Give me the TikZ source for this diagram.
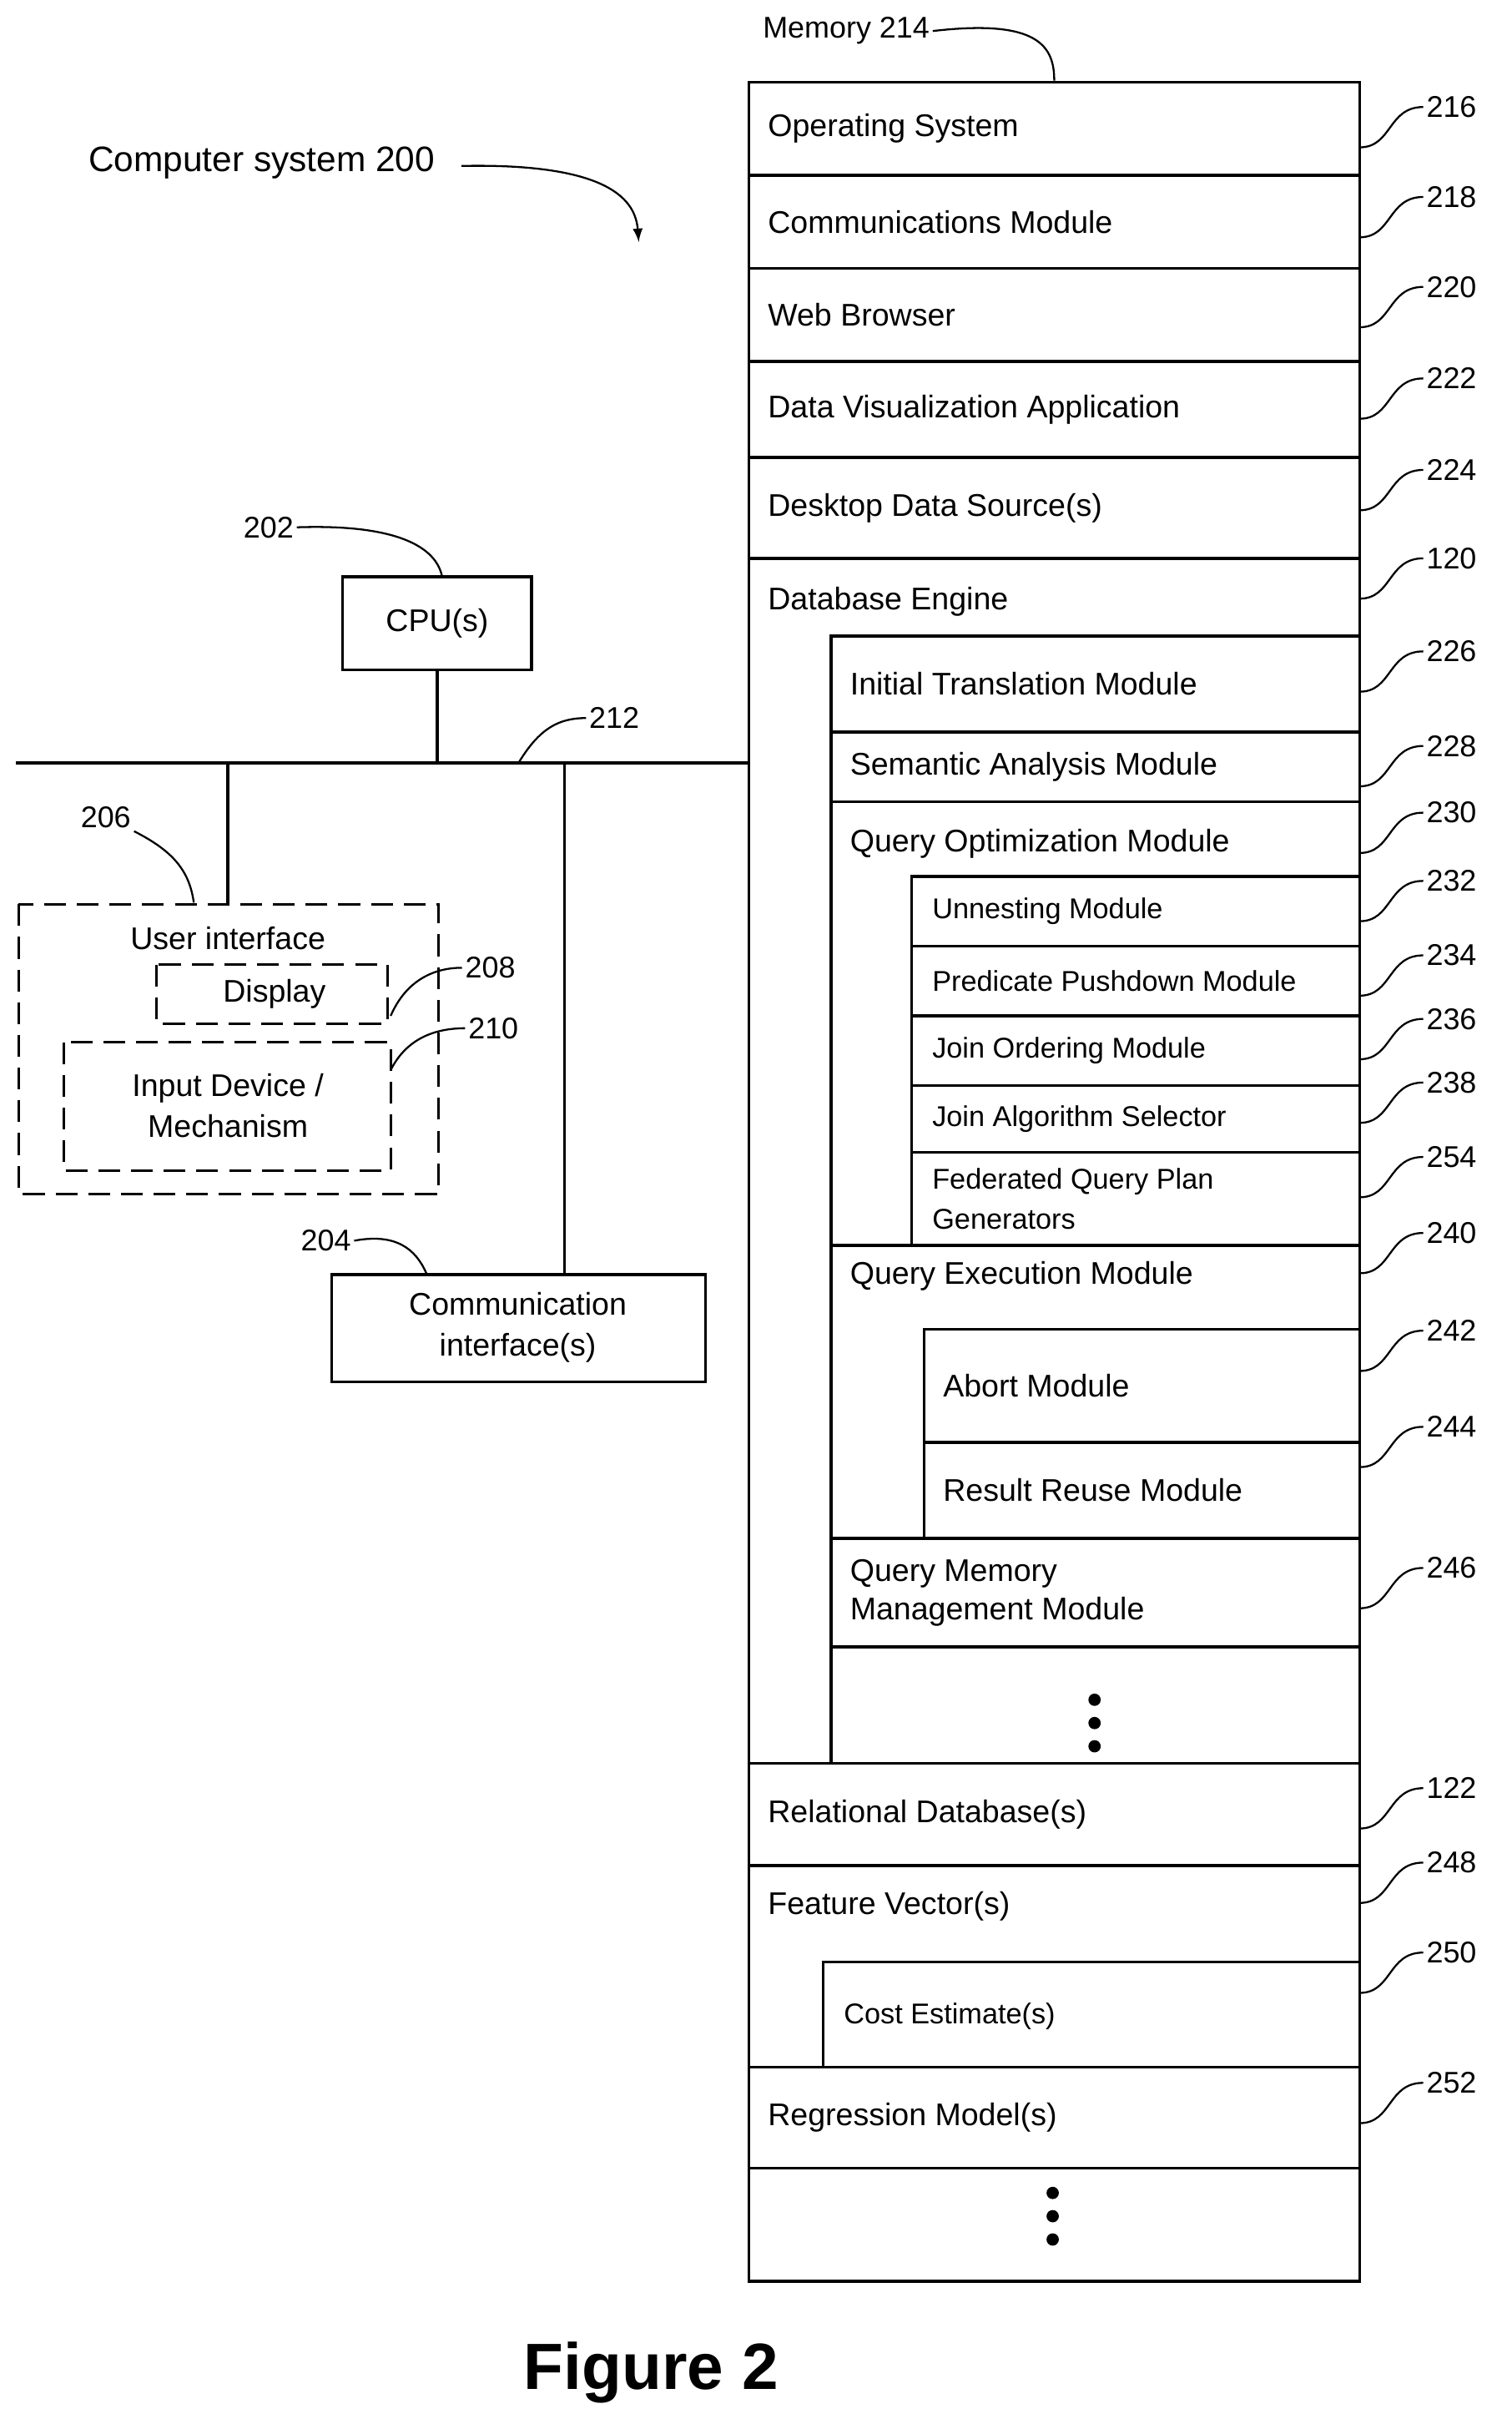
\documentclass[tikz,border=0pt]{standalone}
\usepackage{fontspec}
\setmainfont{Liberation Sans}
\usetikzlibrary{positioning}
\tikzset{
  box/.style={draw, line width=1.1pt},
  dbox/.style={draw, line width=1pt, dash pattern=on 8pt off 4pt},
  txt/.style={anchor=west, inner sep=0pt, font=\fontsize{11.5}{13}\selectfont},
  stxt/.style={anchor=west, inner sep=0pt, font=\fontsize{10.5}{12.5}\selectfont},
  ref/.style={anchor=west, inner sep=1pt, font=\fontsize{11}{13}\selectfont},
  lead/.style={draw, line width=0.7pt},
  dot/.style={circle, fill, inner sep=1.6pt}
}
% row x0 y0 x1 y1 name text
\newcommand{\mrow}[6]{\draw[box] (#1,#2) rectangle (#3,#4);
  \node[txt] (#5) at (#1+12,{(#2+#4)/2}) {#6};}
\newcommand{\mref}[3]{% name, y of label, text
  \coordinate (#1b) at (877,#2+26);
  \node[ref] (#1) at (918,#2) {#3};
  \draw[lead] (#1b) .. controls (898,#2+26) and (895,#2) .. (#1.west);}
\begin{document}
\begin{tikzpicture}[x=0.02cm, y=-0.02cm]
  \useasboundingbox (0,0) rectangle (975,1563);
  % Memory column
  \draw[box] (483,53) rectangle (877,1471);
  \mrow{483}{53}{877}{113}{os}{Operating System}
  \mrow{483}{113}{877}{173}{com}{Communications Module}
  \mrow{483}{173}{877}{233}{web}{Web Browser}
  \mrow{483}{233}{877}{295}{dva}{Data Visualization Application}
  \mrow{483}{295}{877}{360}{dds}{Desktop Data Source(s)}
  \draw[box] (483,360) rectangle (877,1137);
  \node[txt] (dbe) at (495,388) {Database Engine};
  \draw[box] (536,410) rectangle (877,1137);
  \mrow{536}{410}{877}{472}{itm}{Initial Translation Module}
  \mrow{536}{472}{877}{517}{sam}{Semantic Analysis Module}
  \draw[box] (536,517) rectangle (877,803);
  \node[txt] (qom) at (548,544) {Query Optimization Module};
  \draw[box] (588,565) rectangle (877,803);
  \foreach \ya/\yb/\n/\t in {565/610/unm/Unnesting Module, 610/655/ppm/Predicate Pushdown Module,
      655/700/jom/Join Ordering Module, 700/743/jas/Join Algorithm Selector}{
    \draw[box] (588,\ya) rectangle (877,\yb);
    \node[stxt] (\n) at (601,{(\ya+\yb)/2}) {\t};
  }
  \draw[box] (588,743) rectangle (877,803);
  \node[stxt, align=left] (fqp) at (601,773) {Federated Query Plan\\[2pt]Generators};
  \draw[box] (536,803) rectangle (877,992);
  \node[txt] (qem) at (548,823) {Query Execution Module};
  \mrow{596}{857}{877}{930}{abm}{Abort Module}
  \mrow{596}{930}{877}{992}{rrm}{Result Reuse Module}
  \draw[box] (536,992) rectangle (877,1062);
  \node[txt, align=left] (qmm) at (548,1027) {Query Memory\\[1pt]Management Module};
  \node[dot] (d1) at (706,1096) {};
  \node[dot] (d2) at (706,1111) {};
  \node[dot] (d3) at (706,1126) {};
  \mrow{483}{1137}{877}{1203}{rdb}{Relational Database(s)}
  \draw[box] (483,1203) rectangle (877,1333);
  \node[txt] (fvs) at (495,1229) {Feature Vector(s)};
  \draw[box] (531,1265) rectangle (877,1333);
  \node[stxt] (ces) at (544,1300) {Cost Estimate(s)};
  \mrow{483}{1333}{877}{1398}{rms}{Regression Model(s)}
  \node[dot] (e1) at (679,1414) {};
  \node[dot] (e2) at (679,1429) {};
  \node[dot] (e3) at (679,1444) {};
  % reference numbers
  \mref{r216}{69}{216}
  \mref{r218}{127}{218}
  \mref{r220}{185}{220}
  \mref{r222}{244}{222}
  \mref{r224}{303}{224}
  \mref{r120}{360}{120}
  \mref{r226}{420}{226}
  \mref{r228}{481}{228}
  \mref{r230}{524}{230}
  \mref{r232}{568}{232}
  \mref{r234}{616}{234}
  \mref{r236}{657}{236}
  \mref{r238}{698}{238}
  \mref{r254}{746}{254}
  \mref{r240}{795}{240}
  \mref{r242}{858}{242}
  \mref{r244}{920}{244}
  \mref{r246}{1011}{246}
  \mref{r122}{1153}{122}
  \mref{r248}{1201}{248}
  \mref{r250}{1259}{250}
  \mref{r252}{1343}{252}
  % titles
  \node[ref] (mem) at (490,20) {Memory 214};
  \coordinate (memtop) at (680,52);
  \draw[lead] (mem.east) .. controls (670,12) and (680,30) .. (memtop);
  \node[ref, font=\fontsize{13}{15}\selectfont] (cs) at (55,105) {Computer system 200};
  \coordinate (csend) at (412,156);
  \draw[lead, -latex] (cs.east) ++(15,2) .. controls (395,105) and (410,130) .. (csend);
  % CPU and bus
  \draw[box] (221,372) rectangle (343,432);
  \node[inner sep=0pt, font=\fontsize{11.5}{13}\selectfont] (cpu) at (282,402) {CPU(s)};
  \node[ref] (r202) at (155,340) {202};
  \coordinate (cpub) at (285,371);
  \draw[lead] (r202.east) .. controls (250,338) and (280,350) .. (cpub);
  \coordinate (busL) at (10,492);
  \coordinate (busR) at (483,492);
  \draw[box] (busL) -- (busR);
  \draw[box] (282,432) -- (282,492);
  \draw[box] (147,492) -- (147,583);
  \draw[box] (364,492) -- (364,822);
  \node[ref] (r212) at (378,463) {212};
  \coordinate (busb) at (335,491);
  \draw[lead] (busb) .. controls (348,470) and (360,463) .. (r212.west);
  % user interface
  \draw[dbox] (12,583) rectangle (283,770);
  \node[inner sep=0pt, font=\fontsize{11.5}{13}\selectfont] (ui) at (147,605) {User interface};
  \draw[dbox] (101,622) rectangle (250,660);
  \node[inner sep=0pt, font=\fontsize{11.5}{13}\selectfont] (disp) at (177,641) {Display};
  \draw[dbox] (41,672) rectangle (252,755);
  \node[inner sep=0pt, align=center, font=\fontsize{11.5}{15}\selectfont] (inp) at (147,713) {Input Device /\\Mechanism};
  \node[ref] (r206) at (50,527) {206};
  \coordinate (uib) at (125,582);
  \draw[lead] (r206.south east) .. controls (110,548) and (122,560) .. (uib);
  \node[ref] (r208) at (298,624) {208};
  \coordinate (dispb) at (252,655);
  \draw[lead] (dispb) .. controls (262,632) and (280,624) .. (r208.west);
  \node[ref] (r210) at (300,663) {210};
  \coordinate (inpb) at (252,690);
  \draw[lead] (inpb) .. controls (262,670) and (280,663) .. (r210.west);
  % communication interface
  \draw[box] (214,822) rectangle (455,891);
  \node[inner sep=0pt, align=center, font=\fontsize{11.5}{15}\selectfont] (ci) at (334,856) {Communication\\interface(s)};
  \node[ref] (r204) at (192,800) {204};
  \coordinate (cib) at (275,821);
  \draw[lead] (r204.east) .. controls (255,795) and (268,805) .. (cib);
  % caption
  \node[inner sep=0pt, font=\fontsize{24}{28}\bfseries\selectfont] (fig) at (420,1530) {Figure 2};
\end{tikzpicture}
\end{document}
